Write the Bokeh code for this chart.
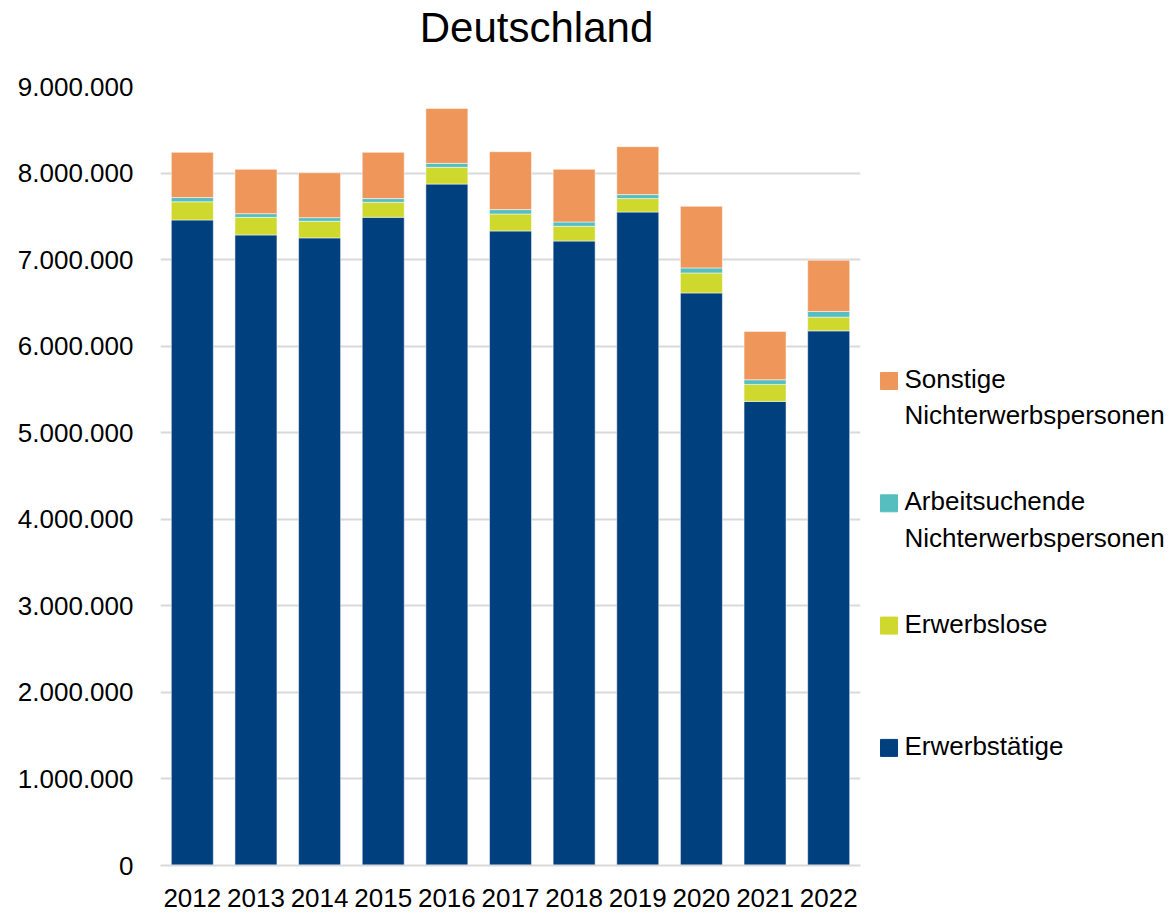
from bokeh.plotting import figure
from bokeh.models import FactorRange, Range1d, FixedTicker
from bokeh.layouts import row, column
from bokeh.core.properties import value
from bokeh.embed import file_html
from bokeh.resources import INLINE

# ---- data ----
years = ["2012", "2013", "2014", "2015", "2016", "2017", "2018", "2019", "2020", "2021", "2022"]
erwerbstaetige = [7458000, 7285000, 7251000, 7489000, 7873000, 7331000, 7215000, 7550000, 6615000, 5362000, 6177000]
erwerbslose = [210000, 203000, 191000, 173000, 193000, 196000, 170000, 155000, 231000, 196000, 158000]
arbeitsuchende = [49000, 43000, 43000, 43000, 46000, 51000, 50000, 46000, 58000, 54000, 66000]
sonstige = [522000, 512000, 519000, 534000, 635000, 669000, 608000, 554000, 712000, 558000, 592000]

series_keys = ["erwerbstaetige", "erwerbslose", "arbeitsuchende", "sonstige"]
series_labels = ["Erwerbstätige", "Erwerbslose",
                 "Arbeitsuchende Nichterwerbspersonen", "Sonstige Nichterwerbspersonen"]
series_colors = ["#00407F", "#CFD82D", "#57BEC0", "#EF975A"]

y_ticks = [0, 1000000, 2000000, 3000000, 4000000, 5000000, 6000000, 7000000, 8000000, 9000000]
y_tick_labels = ["0", "1.000.000", "2.000.000", "3.000.000", "4.000.000", "5.000.000",
                 "6.000.000", "7.000.000", "8.000.000", "9.000.000"]

title_text = "Deutschland"
FONT = "Liberation Sans"

source = dict(years=years, erwerbstaetige=erwerbstaetige, erwerbslose=erwerbslose,
              arbeitsuchende=arbeitsuchende, sonstige=sonstige)

# layout geometry (page pixels)
PAGE_W = 1173
TITLE_H = 60
FL, FT, FW, FH, FB = 160, 86, 700, 779, 49
MAIN_W = FL + FW + 8
LEG_W = PAGE_W - MAIN_W

# ---- title strip ----
tfig = figure(x_range=Range1d(0, PAGE_W), y_range=Range1d(TITLE_H, 0),
              width=PAGE_W, height=TITLE_H, min_border=0,
              output_backend="svg", toolbar_location=None)
tfig.axis.visible = False
tfig.grid.visible = False
tfig.outline_line_color = None
tfig.text(x=[536], y=[27], text=[title_text], text_font=value(FONT), text_font_size="42px",
          text_align="center", text_baseline="alphabetic", text_color="#000000")

# ---- main chart ----
p = figure(x_range=FactorRange(*years, range_padding=0), y_range=Range1d(0, 9000000),
           frame_width=FW, frame_height=FH,
           min_border_left=FL, min_border_right=8, min_border_top=FT - TITLE_H, min_border_bottom=FB,
           output_backend="svg", toolbar_location=None, title=None)

p.vbar_stack(series_keys, x="years", width=0.66, color=series_colors,
             line_color="white", line_alpha=0.5, line_width=1, source=source)

p.outline_line_color = None
p.xgrid.grid_line_color = None
p.ygrid.grid_line_color = "#D9D9D9"
p.ygrid.grid_line_width = 2
p.yaxis.ticker = FixedTicker(ticks=y_ticks)
p.yaxis.major_label_overrides = {k: v for k, v in zip(y_ticks, y_tick_labels)}
p.yaxis.axis_line_color = None
p.yaxis.major_tick_line_color = None
p.yaxis.minor_tick_line_color = None
p.yaxis.major_label_standoff = 21
p.xaxis.axis_line_color = "#D9D9D9"
p.xaxis.axis_line_width = 2
p.xaxis.major_tick_line_color = None
p.xaxis.minor_tick_line_color = None
p.xaxis.major_label_standoff = 17
for ax in (p.xaxis, p.yaxis):
    ax.major_label_text_font = FONT
    ax.major_label_text_font_size = "26px"
    ax.major_label_text_color = "#000000"

# ---- legend panel (data coordinates = page pixels) ----
leg = figure(x_range=Range1d(MAIN_W, PAGE_W), y_range=Range1d(FT + FH, FT),
             frame_width=LEG_W, frame_height=FH,
             min_border_left=0, min_border_right=0, min_border_top=FT - TITLE_H, min_border_bottom=FB,
             output_backend="svg", toolbar_location=None)
leg.axis.visible = False
leg.grid.visible = False
leg.outline_line_color = None

order = list(range(len(series_labels)))[::-1]
top_y, step = 380.5, 122.3
sq_x, sq_y, sq_c, tx, ty, tt = [], [], [], [], [], []
for i, idx in enumerate(order):
    cy = top_y + i * step
    sq_x.append(888.5)
    sq_y.append(cy)
    sq_c.append(series_colors[idx])
    words = series_labels[idx].split(" ")
    for j, w in enumerate(words):
        tx.append(904)
        ty.append(cy - 2 + j * 36.4)
        tt.append(w)

leg.rect(x=sq_x, y=sq_y, width=17, height=17, color=sq_c)
leg.text(x=tx, y=ty, text=tt, text_font=value(FONT), text_font_size="26px",
         text_baseline="alphabetic", text_align="left", text_color="#000000")

layout = column(tfig, row(p, leg))
open("out.html", "w").write(file_html(layout, INLINE))
